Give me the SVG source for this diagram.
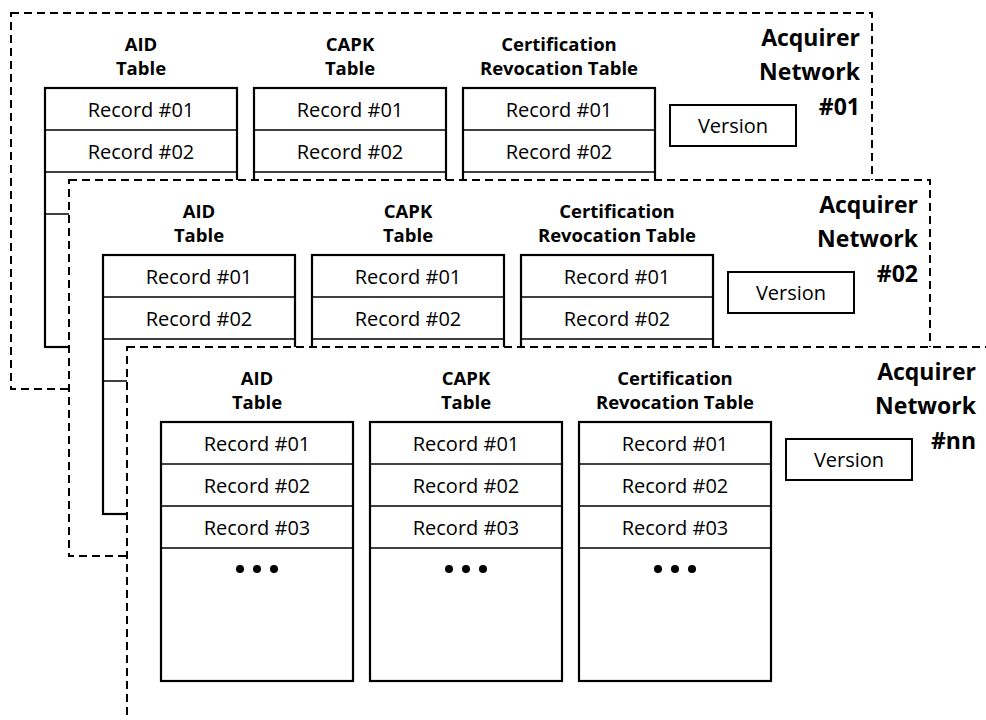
<svg xmlns="http://www.w3.org/2000/svg" width="986" height="720" viewBox="0 0 986 720">
<style>
.panel{fill:#fff;stroke:#000;stroke-width:2;stroke-dasharray:8,5}
.tbl{fill:#fff;stroke:#000;stroke-width:2.2}
.row{stroke:#000;stroke-width:1.5}
.ver{fill:#fff;stroke:#000;stroke-width:2}
.t{font-family:"Open Sans","Noto Sans",sans-serif;font-size:20px;fill:#000;text-anchor:middle}
.h{font-family:"Open Sans","Noto Sans",sans-serif;font-size:18.5px;font-weight:bold;fill:#000;text-anchor:middle}
.n{font-family:"Open Sans","Noto Sans",sans-serif;font-size:23px;font-weight:bold;fill:#000;text-anchor:end}
.dot{fill:#000}
</style>
<g id="connectors"/>

<!-- Panel 1 (lower part hidden under panel 2) -->
<g id="network01">
<rect class="panel" x="11" y="13" width="861" height="376"/>
<g id="n01-aid">
<text class="h" x="141" y="51">AID</text><text class="h" x="141" y="75">Table</text>
<rect class="tbl" x="45" y="88" width="192" height="259"/>
<line class="row" x1="45" y1="130" x2="237" y2="130"/><line class="row" x1="45" y1="172" x2="237" y2="172"/><line class="row" x1="45" y1="214" x2="237" y2="214"/>
<text class="t" x="141" y="117">Record #01</text><text class="t" x="141" y="159">Record #02</text>
</g>
<g id="n01-capk">
<text class="h" x="350" y="51">CAPK</text><text class="h" x="350" y="75">Table</text>
<rect class="tbl" x="254" y="88" width="192" height="259"/>
<line class="row" x1="254" y1="130" x2="446" y2="130"/><line class="row" x1="254" y1="172" x2="446" y2="172"/>
<text class="t" x="350" y="117">Record #01</text><text class="t" x="350" y="159">Record #02</text>
</g>
<g id="n01-crt">
<text class="h" x="559" y="51">Certification</text><text class="h" x="559" y="75">Revocation Table</text>
<rect class="tbl" x="463" y="88" width="192" height="259"/>
<line class="row" x1="463" y1="130" x2="655" y2="130"/><line class="row" x1="463" y1="172" x2="655" y2="172"/>
<text class="t" x="559" y="117">Record #01</text><text class="t" x="559" y="159">Record #02</text>
</g>
<g id="n01-version">
<rect class="ver" x="670" y="105" width="126" height="41"/>
<text class="t" x="733" y="133">Version</text>
</g>
<g id="n01-label">
<text class="n" x="860" y="46">Acquirer</text><text class="n" x="860" y="80">Network</text><text class="n" x="860" y="115">#01</text>
</g>
</g>

<!-- Panel 2 (lower part hidden under panel nn) -->
<g id="network02" transform="translate(58,167)">
<rect class="panel" x="11" y="13" width="861" height="376"/>
<g id="n02-aid">
<text class="h" x="141" y="51">AID</text><text class="h" x="141" y="75">Table</text>
<rect class="tbl" x="45" y="88" width="192" height="259"/>
<line class="row" x1="45" y1="130" x2="237" y2="130"/><line class="row" x1="45" y1="172" x2="237" y2="172"/><line class="row" x1="45" y1="214" x2="237" y2="214"/>
<text class="t" x="141" y="117">Record #01</text><text class="t" x="141" y="159">Record #02</text>
</g>
<g id="n02-capk">
<text class="h" x="350" y="51">CAPK</text><text class="h" x="350" y="75">Table</text>
<rect class="tbl" x="254" y="88" width="192" height="259"/>
<line class="row" x1="254" y1="130" x2="446" y2="130"/><line class="row" x1="254" y1="172" x2="446" y2="172"/>
<text class="t" x="350" y="117">Record #01</text><text class="t" x="350" y="159">Record #02</text>
</g>
<g id="n02-crt">
<text class="h" x="559" y="51">Certification</text><text class="h" x="559" y="75">Revocation Table</text>
<rect class="tbl" x="463" y="88" width="192" height="259"/>
<line class="row" x1="463" y1="130" x2="655" y2="130"/><line class="row" x1="463" y1="172" x2="655" y2="172"/>
<text class="t" x="559" y="117">Record #01</text><text class="t" x="559" y="159">Record #02</text>
</g>
<g id="n02-version">
<rect class="ver" x="670" y="105" width="126" height="41"/>
<text class="t" x="733" y="133">Version</text>
</g>
<g id="n02-label">
<text class="n" x="860" y="46">Acquirer</text><text class="n" x="860" y="80">Network</text><text class="n" x="860" y="115">#02</text>
</g>
</g>

<!-- Panel nn -->
<g id="networknn" transform="translate(116,334)">
<rect class="panel" x="11" y="13" width="861" height="376"/>
<g id="nnn-aid">
<text class="h" x="141" y="51">AID</text><text class="h" x="141" y="75">Table</text>
<rect class="tbl" x="45" y="88" width="192" height="259"/>
<line class="row" x1="45" y1="130" x2="237" y2="130"/><line class="row" x1="45" y1="172" x2="237" y2="172"/><line class="row" x1="45" y1="214" x2="237" y2="214"/>
<text class="t" x="141" y="117">Record #01</text><text class="t" x="141" y="159">Record #02</text><text class="t" x="141" y="201">Record #03</text>
<circle class="dot" cx="124" cy="235" r="4"/><circle class="dot" cx="141" cy="235" r="4"/><circle class="dot" cx="158" cy="235" r="4"/>
</g>
<g id="nnn-capk">
<text class="h" x="350" y="51">CAPK</text><text class="h" x="350" y="75">Table</text>
<rect class="tbl" x="254" y="88" width="192" height="259"/>
<line class="row" x1="254" y1="130" x2="446" y2="130"/><line class="row" x1="254" y1="172" x2="446" y2="172"/><line class="row" x1="254" y1="214" x2="446" y2="214"/>
<text class="t" x="350" y="117">Record #01</text><text class="t" x="350" y="159">Record #02</text><text class="t" x="350" y="201">Record #03</text>
<circle class="dot" cx="333" cy="235" r="4"/><circle class="dot" cx="350" cy="235" r="4"/><circle class="dot" cx="367" cy="235" r="4"/>
</g>
<g id="nnn-crt">
<text class="h" x="559" y="51">Certification</text><text class="h" x="559" y="75">Revocation Table</text>
<rect class="tbl" x="463" y="88" width="192" height="259"/>
<line class="row" x1="463" y1="130" x2="655" y2="130"/><line class="row" x1="463" y1="172" x2="655" y2="172"/><line class="row" x1="463" y1="214" x2="655" y2="214"/>
<text class="t" x="559" y="117">Record #01</text><text class="t" x="559" y="159">Record #02</text><text class="t" x="559" y="201">Record #03</text>
<circle class="dot" cx="542" cy="235" r="4"/><circle class="dot" cx="559" cy="235" r="4"/><circle class="dot" cx="576" cy="235" r="4"/>
</g>
<g id="nnn-version">
<rect class="ver" x="670" y="105" width="126" height="41"/>
<text class="t" x="733" y="133">Version</text>
</g>
<g id="nnn-label">
<text class="n" x="860" y="46">Acquirer</text><text class="n" x="860" y="80">Network</text><text class="n" x="860" y="115">#nn</text>
</g>
</g>
</svg>
